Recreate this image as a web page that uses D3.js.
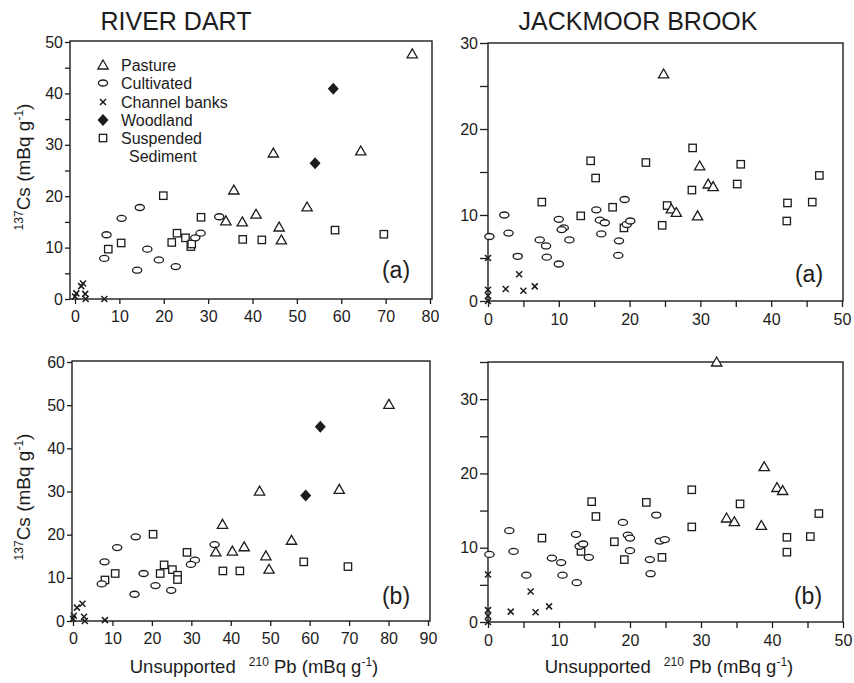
<!DOCTYPE html>
<html>
<head>
<meta charset="utf-8">
<script src="https://d3js.org/d3.v7.min.js"></script>
<style>
body{margin:0;background:#fff;}
text{font-family:"Liberation Sans",Arial,Helvetica,sans-serif;fill:#1c1c1c;}
</style>
</head>
<body>
<svg width="854" height="683"></svg>
<script>
// River Dart (a)  [210Pb, 137Cs]
const dartA_pasture=[[76.0,47.7],[44.7,28.4],[64.4,28.8],[35.8,21.2],[52.3,17.9],[40.8,16.5],[34.0,15.2],[37.7,15.0],[46.0,14.0],[46.5,11.5]];
const dartA_cultivated=[[14.6,17.8],[10.5,15.7],[7.1,12.5],[6.6,7.9],[16.3,9.7],[18.9,7.6],[14.0,5.6],[22.7,6.3],[32.5,16.0],[28.3,12.8],[27.1,11.9]];
const dartA_channel=[[0,0.5],[0.3,1.1],[1.8,3.0],[1.4,2.5],[2.3,1.0],[2.4,0],[6.6,0]];
const dartA_woodland=[[58.2,40.9],[54.1,26.4]];
const dartA_sediment=[[19.9,20.1],[28.4,15.9],[23.0,12.8],[21.8,11.0],[24.9,11.9],[26.1,10.2],[26.3,10.7],[10.4,10.9],[7.5,9.7],[37.8,11.6],[42.1,11.5],[58.6,13.4],[69.6,12.6]];

// River Dart (b)
const dartB_pasture=[[80.1,50.2],[47.3,30.1],[67.5,30.5],[37.9,22.4],[55.4,18.7],[43.4,17.2],[40.4,16.2],[36.2,16.0],[48.9,15.1],[49.7,12.0]];
const dartB_cultivated=[[15.9,19.5],[11.2,17.0],[8.0,13.7],[7.3,8.6],[17.9,11.0],[20.9,8.2],[15.6,6.2],[24.9,7.1],[35.9,17.7],[30.9,14.1],[29.9,13.1]];
const dartB_channel=[[0,0.5],[0.2,1.2],[1.0,3.1],[2.4,4.0],[2.8,1.0],[3.0,0],[8.1,0.2]];
const dartB_woodland=[[62.7,45.0],[59.0,29.1]];
const dartB_sediment=[[20.3,20.1],[28.9,15.9],[23.1,13.0],[22.1,11.0],[25.2,11.9],[26.5,10.6],[26.5,9.6],[10.7,11.0],[8.1,9.5],[38.0,11.6],[42.3,11.6],[58.5,13.7],[69.7,12.6]];

// Jackmoor Brook (a)
const jackA_pasture=[[24.8,26.4],[29.9,15.7],[31.1,13.6],[31.8,13.3],[29.6,9.9],[25.9,10.7],[26.6,10.3]];
const jackA_cultivated=[[0.2,7.5],[2.3,10.0],[2.9,7.9],[4.2,5.2],[7.3,7.1],[8.2,6.4],[8.3,5.1],[10.0,4.3],[10.0,9.5],[10.7,8.5],[10.4,8.3],[11.5,7.1],[15.3,10.6],[15.8,9.4],[16.5,9.1],[16.0,7.8],[19.3,11.8],[18.5,7.0],[18.4,5.3],[19.6,8.9],[20.1,9.3]];
const jackA_channel=[[0,5.0],[0,1.3],[0,0.6],[0,0],[2.5,1.4],[4.4,3.1],[5.0,1.2],[6.6,1.7]];
const jackA_sediment=[[14.5,16.3],[15.2,14.3],[22.3,16.1],[28.9,17.8],[35.7,15.9],[28.8,12.9],[35.2,13.6],[46.8,14.6],[42.3,11.4],[45.8,11.5],[42.2,9.3],[25.3,11.1],[24.6,8.8],[7.6,11.5],[13.1,9.9],[17.6,10.9],[19.2,8.5]];

// Jackmoor Brook (b)
const jackB_pasture=[[32.2,35.0],[38.9,20.9],[40.7,18.1],[41.5,17.7],[33.6,14.0],[34.7,13.5],[38.5,13.0]];
const jackB_cultivated=[[0.2,9.1],[3.0,12.3],[3.6,9.5],[5.4,6.3],[9.0,8.6],[10.3,8.0],[10.5,6.3],[12.4,11.8],[12.9,10.2],[13.4,10.5],[14.2,8.7],[12.5,5.3],[19.0,13.4],[19.7,11.7],[20.0,11.3],[20.0,9.6],[23.7,14.4],[22.8,8.4],[22.9,6.5],[24.2,10.9],[24.9,11.1]];
const jackB_channel=[[0,6.4],[0,1.6],[0,0.8],[0,0],[3.2,1.4],[6.0,4.1],[6.7,1.3],[8.6,2.1]];
const jackB_sediment=[[14.6,16.2],[15.2,14.2],[22.3,16.1],[28.7,17.8],[35.5,15.9],[28.7,12.8],[46.6,14.6],[42.1,11.4],[45.4,11.5],[42.1,9.4],[24.5,8.7],[19.2,8.4],[17.8,10.8],[7.6,11.3],[13.1,9.5]];

const legendLabels=['Pasture','Cultivated','Channel banks','Woodland','Suspended'];

const ink='#1c1c1c';
const svg=d3.select('svg');

svg.append('rect')
    .attr('width',854)
    .attr('height',683)
    .attr('fill','#fff');

const triPath=d3.symbol(d3.symbolTriangle,46)();
const diamondPath='M0,-6L5.5,0L0,6L-5.5,0Z';
const crossPath='M-3,-3L3,3M-3,3L3,-3';

function marks(g,kind,data,x,y){
    const sel=g.selectAll(null).data(data).enter();
    if(kind==='tri'){
        sel.append('path').attr('d',triPath)
            .attr('transform',d=>`translate(${x(d[0])},${y(d[1])+1})`)
            .attr('fill','#fff').attr('stroke',ink).attr('stroke-width',1.3);
    } else if(kind==='ell'){
        sel.append('ellipse')
            .attr('cx',d=>x(d[0])).attr('cy',d=>y(d[1]))
            .attr('rx',4.6).attr('ry',3)
            .attr('fill','#fff').attr('stroke',ink).attr('stroke-width',1.3);
    } else if(kind==='sq'){
        sel.append('rect')
            .attr('x',d=>x(d[0])-3.7).attr('y',d=>y(d[1])-3.7)
            .attr('width',7.4).attr('height',7.4)
            .attr('fill','#fff').attr('stroke',ink).attr('stroke-width',1.3);
    } else if(kind==='dia'){
        sel.append('path').attr('d',diamondPath)
            .attr('transform',d=>`translate(${x(d[0])},${y(d[1])})`)
            .attr('fill',ink);
    } else {
        sel.append('path').attr('d',crossPath)
            .attr('transform',d=>`translate(${x(d[0])},${y(d[1])})`)
            .attr('fill','none').attr('stroke',ink).attr('stroke-width',1.5);
    }
}

function panel(p){
    const x=d3.scaleLinear().domain(p.xd).range(p.xr);
    const y=d3.scaleLinear().domain(p.yd).range(p.yr);
    const g=svg.append('g');

    const xa=g.append('g')
        .attr('transform',`translate(0,${p.box[3]})`)
        .call(d3.axisBottom(x).tickValues(p.xt).tickSize(p.tk).tickPadding(7)
            .tickFormat(d=>d%p.xl===0?d:''));
    const ya=g.append('g')
        .attr('transform',`translate(${p.box[0]},0)`)
        .call(d3.axisLeft(y).tickValues(p.yt).tickSize(p.ytk).tickPadding(p.ypad)
            .tickFormat(d=>d%10===0?d:''));
    [xa,ya].forEach(a=>{
        a.select('.domain').remove();
        a.selectAll('line').attr('stroke',ink).attr('stroke-width',1.3);
        a.selectAll('text').attr('font-size',16).attr('font-family','"Liberation Sans",Arial,sans-serif').attr('fill',ink);
    });

    g.append('rect')
        .attr('x',p.box[0]).attr('y',p.box[1])
        .attr('width',p.box[2]-p.box[0]).attr('height',p.box[3]-p.box[1])
        .attr('fill','none').attr('stroke',ink).attr('stroke-width',1.4);

    marks(g,'sq',p.sed,x,y);
    marks(g,'ell',p.cul,x,y);
    marks(g,'tri',p.pas,x,y);
    if(p.wood) marks(g,'dia',p.wood,x,y);
    marks(g,'x',p.chan,x,y);

    g.append('text')
        .attr('x',p.lab[0]).attr('y',p.lab[1])
        .attr('text-anchor','middle').attr('font-size',23)
        .text(p.letter);
}

panel({xd:[0,80],xr:[75,430],yd:[0,50],yr:[299,42],box:[70,41,432,299],
    xt:d3.range(0,81,10),xl:10,yt:d3.range(0,51,5),tk:5,ytk:5,ypad:2,
    pas:dartA_pasture,cul:dartA_cultivated,chan:dartA_channel,wood:dartA_woodland,sed:dartA_sediment,
    lab:[396,278],letter:'(a)'});

panel({xd:[0,50],xr:[488,842],yd:[0,30],yr:[301,43],box:[488,43,843,301],
    xt:d3.range(0,51,5),xl:10,yt:d3.range(0,31,5),tk:6,ytk:8,ypad:2,
    pas:jackA_pasture,cul:jackA_cultivated,chan:jackA_channel,sed:jackA_sediment,
    lab:[809,282],letter:'(a)'});

panel({xd:[0,90],xr:[73,428],yd:[0,60],yr:[621,362],box:[72,361,430,621],
    xt:d3.range(0,91,10),xl:10,yt:d3.range(0,61,10),tk:5,ytk:5,ypad:2,
    pas:dartB_pasture,cul:dartB_cultivated,chan:dartB_channel,wood:dartB_woodland,sed:dartB_sediment,
    lab:[396,604],letter:'(b)'});

panel({xd:[0,50],xr:[488,843],yd:[0,35],yr:[622,362],box:[488,362,843,622],
    xt:d3.range(0,51,5),xl:10,yt:d3.range(0,36,5),tk:6,ytk:8,ypad:2,
    pas:jackB_pasture,cul:jackB_cultivated,chan:jackB_channel,sed:jackB_sediment,
    lab:[808,604],letter:'(b)'});

// titles
svg.append('text').attr('x',176).attr('y',30).attr('text-anchor','middle')
    .attr('font-size',25).text('RIVER DART');
svg.append('text').attr('x',638).attr('y',30).attr('text-anchor','middle')
    .attr('font-size',25).text('JACKMOOR  BROOK');

// legend
const legKinds=['tri','ell','x','dia','sq'];
const legY=[65,83,102,120,138];
const legG=svg.append('g');
legKinds.forEach((k,i)=>{
    const lx=d3.scaleLinear().domain([0,1]).range([103,104]);
    const ly=d3.scaleLinear().domain([0,1]).range([legY[i],legY[i]+1]);
    marks(legG,k,[[0,0]],lx,ly);
    legG.append('text').attr('x',121).attr('y',legY[i]+6)
        .attr('font-size',16).text(legendLabels[i]);
});
legG.append('text').attr('x',129).attr('y',162).attr('font-size',16).text('Sediment');

// y axis titles
function yTitle(cy){
    const t=svg.append('text')
        .attr('transform',`translate(30,${cy}) rotate(-90)`)
        .attr('text-anchor','middle').attr('font-size',19);
    t.append('tspan').attr('font-size',12).attr('dy',-7).text('137');
    t.append('tspan').attr('dy',7).text('Cs (mBq g');
    t.append('tspan').attr('font-size',12).attr('dy',-7).text('-1');
    t.append('tspan').attr('dy',7).text(')');
}
yTitle(167);
yTitle(497);

// x axis titles
function xTitle(cx){
    const t=svg.append('text')
        .attr('x',cx).attr('y',673)
        .attr('text-anchor','middle').attr('font-size',18.5);
    t.append('tspan').text('Unsupported ');
    t.append('tspan').attr('font-size',12).attr('dx',8).attr('dy',-7).text('210');
    t.append('tspan').attr('dy',7).text(' Pb (mBq g');
    t.append('tspan').attr('font-size',12).attr('dy',-7).text('-1');
    t.append('tspan').attr('dy',7).text(')');
}
xTitle(254);
xTitle(669);
</script>
</body>
</html>
